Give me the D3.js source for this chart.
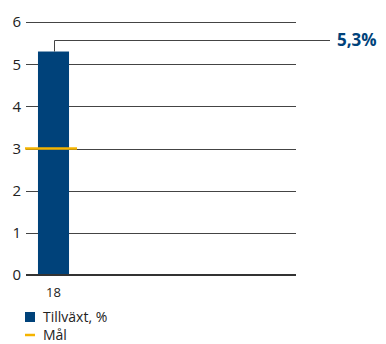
<!DOCTYPE html>
<html>
<head>
<meta charset="utf-8">
<script src="https://cdn.jsdelivr.net/npm/d3@7"></script>
<style>
  body { margin: 0; background: #fff; }
  svg { display: block; }
</style>
</head>
<body>
<div id="chart"></div>
<script>
// data
var years = ["18"];
var growth = [5.3];
var target = [3];
var yTicks = [0, 1, 2, 3, 4, 5, 6];
var valueLabels = ["5,3%"];
var legendLabels = ["Tillväxt, %", "Mål"];

var W = 386, H = 344;
var plotLeft = 26, plotRight = 296, plotTop = 22, plotBottom = 275;
var blue = "#00427a", orange = "#f5b400";
var font = "'Open Sans', sans-serif";

var svg = d3.select("#chart").append("svg")
  .attr("width", W)
  .attr("height", H);

var y = d3.scaleLinear().domain([0, 6]).range([plotBottom, plotTop]);
var x = d3.scaleBand().domain(years).range([plotLeft, plotLeft + 55]).paddingInner(0.3).paddingOuter(0.27);

//gridlines
svg.append("g").selectAll("line")
  .data(yTicks.filter(function(d) { return d > 0; }))
  .enter().append("line")
  .attr("x1", plotLeft).attr("x2", plotRight)
  .attr("y1", function(d) { return Math.round(y(d)) + 0.5; })
  .attr("y2", function(d) { return Math.round(y(d)) + 0.5; })
  .attr("stroke", "#444")
  .attr("stroke-width", 1);

//y tick labels
svg.append("g").selectAll("text")
  .data(yTicks)
  .enter().append("text")
  .attr("x", 21)
  .attr("y", function(d) { return y(d); })
  .attr("dy", "0.36em")
  .attr("text-anchor", "end")
  .attr("font-family", font)
  .attr("font-size", 15)
  .attr("fill", "#222")
  .text(function(d) { return d; });

//bars
svg.append("g").selectAll("rect")
  .data(growth)
  .enter().append("rect")
  .attr("x", function(d, i) { return x(years[i]); })
  .attr("width", x.bandwidth())
  .attr("y", function(d) { return y(d); })
  .attr("height", function(d) { return y(0) - y(d); })
  .attr("fill", blue);

//baseline
svg.append("line")
  .attr("x1", plotLeft).attr("x2", plotRight)
  .attr("y1", y(0)).attr("y2", y(0))
  .attr("stroke", "#333")
  .attr("stroke-width", 2);

//target marker
svg.append("g").selectAll("line")
  .data(target)
  .enter().append("line")
  .attr("x1", plotLeft - 1)
  .attr("x2", function(d, i) { return x(years[i]) + x.bandwidth() + 8; })
  .attr("y1", function(d) { return y(d); })
  .attr("y2", function(d) { return y(d); })
  .attr("stroke", orange)
  .attr("stroke-width", 2.5);

//x labels
svg.append("g").selectAll("text")
  .data(years)
  .enter().append("text")
  .attr("x", function(d) { return x(d) + x.bandwidth() / 2; })
  .attr("y", plotBottom + 22)
  .attr("text-anchor", "middle")
  .attr("font-family", font)
  .attr("font-size", 13)
  .attr("fill", "#222")
  .text(function(d) { return d; });

//callout to value label
var lead = y(6) + 18;
growth.forEach(function(d, i) {
  var cx = Math.round(x(years[i]) + x.bandwidth() / 2);
  svg.append("path")
    .attr("d", "M" + (cx + 0.5) + "," + y(d) + "V" + (Math.round(lead) + 0.5) + "H330")
    .attr("fill", "none")
    .attr("stroke", "#444")
    .attr("stroke-width", 1);
  svg.append("text")
    .attr("x", 337)
    .attr("y", lead)
    .attr("dy", "0.36em")
    .attr("font-family", font)
    .attr("font-size", 17)
    .attr("font-weight", "bold")
    .attr("fill", blue)
    .text(valueLabels[i]);
});

//legend
var lg = svg.append("g").attr("transform", "translate(25,309)");
lg.append("rect")
  .attr("x", 0).attr("y", 3)
  .attr("width", 10).attr("height", 10)
  .attr("fill", blue);
lg.append("line")
  .attr("x1", 0).attr("x2", 10)
  .attr("y1", 26).attr("y2", 26)
  .attr("stroke", orange)
  .attr("stroke-width", 2.5);
lg.selectAll("text")
  .data(legendLabels)
  .enter().append("text")
  .attr("x", 18)
  .attr("y", function(d, i) { return 8 + i * 18; })
  .attr("dy", "0.36em")
  .attr("font-family", font)
  .attr("font-size", 14)
  .attr("fill", "#222")
  .text(function(d) { return d; });
</script>
</body>
</html>
